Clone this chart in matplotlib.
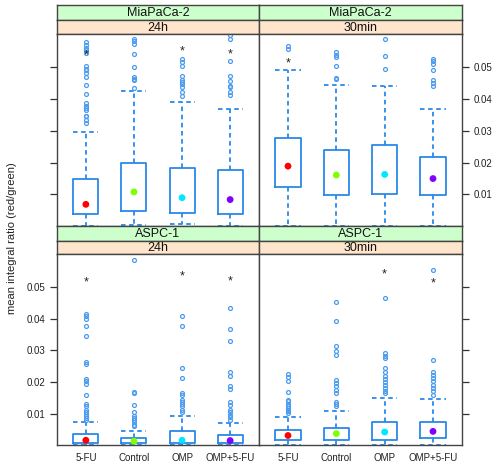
import numpy as np
import matplotlib
matplotlib.use("Agg")
import matplotlib.pyplot as plt

plt.rcParams["font.family"] = ["Liberation Sans", "DejaVu Sans"]

# --- data ---
groups = ["5-FU", "Control", "OMP", "OMP+5-FU"]
cell_lines = ["MiaPaCa-2", "ASPC-1"]
times = ["24h", "30min"]
y_ticks = [0.01, 0.02, 0.03, 0.04, 0.05]

# MiaPaCa-2, 24h
mia24_q1 = [0.0039, 0.0047, 0.0041, 0.0039]
mia24_med = [0.0069, 0.0108, 0.0090, 0.0084]
mia24_q3 = [0.0149, 0.0200, 0.0183, 0.0178]
mia24_lo = [0.0, 0.0003, 0.0007, 0.0]
mia24_hi = [0.0296, 0.0424, 0.0390, 0.0370]
mia24_out = [
    [0.0324, 0.0333, 0.0345, 0.0348, 0.0366, 0.0371, 0.0379, 0.0388, 0.0416, 0.0445,
     0.0469, 0.0480, 0.0490, 0.0495, 0.0502, 0.0545, 0.0553, 0.0560, 0.0569, 0.0578],
    [0.0434, 0.0458, 0.0464, 0.0469, 0.0500, 0.0540, 0.0574, 0.0581, 0.0588],
    [0.0408, 0.0421, 0.0437, 0.0448, 0.0452, 0.0461, 0.0473, 0.0502, 0.0515, 0.0525],
    [0.0413, 0.0421, 0.0437, 0.0441, 0.0455, 0.0473, 0.0518, 0.0588, 0.0600],
]
mia24_star = [0.0536, None, 0.0550, 0.0540]

# MiaPaCa-2, 30min
mia30_q1 = [0.0125, 0.0099, 0.0102, 0.0099]
mia30_med = [0.0189, 0.0161, 0.0163, 0.0150]
mia30_q3 = [0.0278, 0.0240, 0.0254, 0.0218]
mia30_lo = [0.0, 0.0, 0.0, 0.0]
mia30_hi = [0.0492, 0.0445, 0.0442, 0.0370]
mia30_out = [
    [0.0558, 0.0565],
    [0.0462, 0.0466, 0.0502, 0.0531, 0.0539, 0.0547],
    [0.0495, 0.0535, 0.0589],
    [0.0441, 0.0450, 0.0458, 0.0492, 0.0510, 0.0518, 0.0525],
]
mia30_star = [0.0510, None, None, None]

# ASPC-1, 24h
aspc24_q1 = [0.0008, 0.0008, 0.0008, 0.0008]
aspc24_med = [0.0016, 0.0013, 0.0016, 0.0015]
aspc24_q3 = [0.0037, 0.0023, 0.0046, 0.0034]
aspc24_lo = [0.0002, 0.0002, 0.0002, 0.0002]
aspc24_hi = [0.0073, 0.0046, 0.0094, 0.0071]
aspc24_out = [
    [0.0081, 0.0086, 0.0091, 0.0100, 0.0104, 0.0113, 0.0125, 0.0132, 0.0160, 0.0195,
     0.0202, 0.0209, 0.0256, 0.0262, 0.0344, 0.0378, 0.0399, 0.0407, 0.0415],
    [0.0060, 0.0065, 0.0073, 0.0081, 0.0086, 0.0094, 0.0104, 0.0128, 0.0165, 0.0168, 0.0586],
    [0.0104, 0.0113, 0.0123, 0.0132, 0.0136, 0.0142, 0.0160, 0.0165, 0.0213, 0.0244,
     0.0378, 0.0409],
    [0.0079, 0.0089, 0.0097, 0.0104, 0.0113, 0.0128, 0.0136, 0.0178, 0.0186, 0.0218,
     0.0233, 0.0328, 0.0368, 0.0435],
]
aspc24_star = [0.0515, None, 0.0533, 0.0517]

# ASPC-1, 30min
aspc30_q1 = [0.0018, 0.0018, 0.0018, 0.0023]
aspc30_med = [0.0031, 0.0037, 0.0042, 0.0044]
aspc30_q3 = [0.0047, 0.0055, 0.0073, 0.0073]
aspc30_lo = [0.0002, 0.0002, 0.0002, 0.0002]
aspc30_hi = [0.0090, 0.0107, 0.0150, 0.0146]
aspc30_out = [
    [0.0102, 0.0107, 0.0113, 0.0118, 0.0125, 0.0132, 0.0139, 0.0144, 0.0167, 0.0202,
     0.0216, 0.0226],
    [0.0123, 0.0132, 0.0136, 0.0165, 0.0176, 0.0186, 0.0197, 0.0205, 0.0286, 0.0297,
     0.0315, 0.0393, 0.0451],
    [0.0165, 0.0170, 0.0181, 0.0191, 0.0199, 0.0209, 0.0220, 0.0233, 0.0244, 0.0276,
     0.0283, 0.0291, 0.0465],
    [0.0160, 0.0170, 0.0181, 0.0191, 0.0202, 0.0213, 0.0223, 0.0233, 0.0270, 0.0552],
]
aspc30_star = [None, None, 0.0541, 0.0512]

# --- styles ---
box_col = "#2a88e8"
pt_col = "#4a9cf0"
dot_cols = ["#ff0000", "#80ff00", "#00e8ff", "#8000ff"]
frame_col = "#444444"
strip_top = "#ccffcc"
strip_bot = "#ffe5cc"

W, H = 498, 468
fig = plt.figure(figsize=(W / 100, H / 100), dpi=100)


def fx(px):
    return px / W


def fy(py):
    return 1 - py / H


# pixel layout: (x0, x1) per column, (strip top, strip mid, panel top, panel bottom) per row
cols = [(57, 259), (259, 462)]
rows = [(5, 20, 34, 226), (226, 241, 254, 445)]

panels = [
    (0, 0, mia24_q1, mia24_med, mia24_q3, mia24_lo, mia24_hi, mia24_out, mia24_star),
    (0, 1, mia30_q1, mia30_med, mia30_q3, mia30_lo, mia30_hi, mia30_out, mia30_star),
    (1, 0, aspc24_q1, aspc24_med, aspc24_q3, aspc24_lo, aspc24_hi, aspc24_out, aspc24_star),
    (1, 1, aspc30_q1, aspc30_med, aspc30_q3, aspc30_lo, aspc30_hi, aspc30_out, aspc30_star),
]

pos = np.arange(1, len(groups) + 1)

for r, c, q1, med, q3, lo, hi, out, star in panels:
    x0, x1 = cols[c]
    s0, s1, p0, p1 = rows[r]

    # strips
    for (a, b), col, txt in [((s0, s1), strip_top, cell_lines[r]), ((s1, p0), strip_bot, times[c])]:
        sa = fig.add_axes([fx(x0), fy(b), fx(x1 - x0), (b - a) / H])
        sa.set_facecolor(col)
        sa.set_xticks([])
        sa.set_yticks([])
        for sp in sa.spines.values():
            sp.set_color(frame_col)
            sp.set_linewidth(1)
        sa.text(0.5, 0.45, txt, ha="center", va="center", fontsize=9, color="#111111",
                transform=sa.transAxes)

    ax = fig.add_axes([fx(x0), fy(p1), fx(x1 - x0), (p1 - p0) / H])
    stats = []
    for i in range(len(groups)):
        stats.append(dict(med=med[i], q1=q1[i], q3=q3[i], whislo=lo[i], whishi=hi[i],
                          fliers=out[i]))
    ax.bxp(stats, positions=pos, widths=0.52, capwidths=0.52, showfliers=True,
           boxprops=dict(color=box_col, linewidth=1.3),
           whiskerprops=dict(color=box_col, linewidth=1.3, linestyle=(0, (2.5, 2))),
           capprops=dict(color=box_col, linewidth=1.3, linestyle=(0, (2.5, 2))),
           medianprops=dict(linewidth=0),
           flierprops=dict(marker="o", markerfacecolor="none", markeredgecolor=pt_col,
                           markersize=2.8, markeredgewidth=0.9))
    ax.scatter(pos, med, s=24, c=dot_cols, zorder=5, edgecolors="none")
    for i, sv in enumerate(star):
        if sv is not None:
            ax.text(pos[i], sv, "*", ha="center", va="center", fontsize=9, color="#222222")

    ax.set_xlim(0.4, 4.6)
    ax.set_ylim(0.0001, 0.0604)
    for sp in ax.spines.values():
        sp.set_color(frame_col)
        sp.set_linewidth(1)

    ax.set_yticks(y_ticks)
    ax.tick_params(axis="y", length=5, width=0.9, color="#333333", labelsize=7,
                   labelcolor="#222222", direction="out")
    if r == 0 and c == 0:
        ax.tick_params(axis="y", left=True, labelleft=False, right=False)
    elif r == 0 and c == 1:
        ax.tick_params(axis="y", left=False, right=True, labelright=True, labelleft=False)
    elif r == 1 and c == 0:
        ax.tick_params(axis="y", left=True, labelleft=True, right=False)
    else:
        ax.tick_params(axis="y", left=False, right=True, labelright=False, labelleft=False)
    ax.yaxis.set_major_formatter(matplotlib.ticker.FormatStrFormatter("%.2f"))

    ax.set_xticks(pos)
    if r == 1:
        ax.set_xticklabels(groups, fontsize=7, color="#222222")
        ax.tick_params(axis="x", length=0, pad=6)
    else:
        ax.set_xticklabels([])
        ax.tick_params(axis="x", length=0)

fig.text(fx(12), fy(238), "mean integral ratio (red/green)", rotation=90, ha="center",
         va="center", fontsize=8, color="#222222")

fig.savefig("out.png", dpi=100)
